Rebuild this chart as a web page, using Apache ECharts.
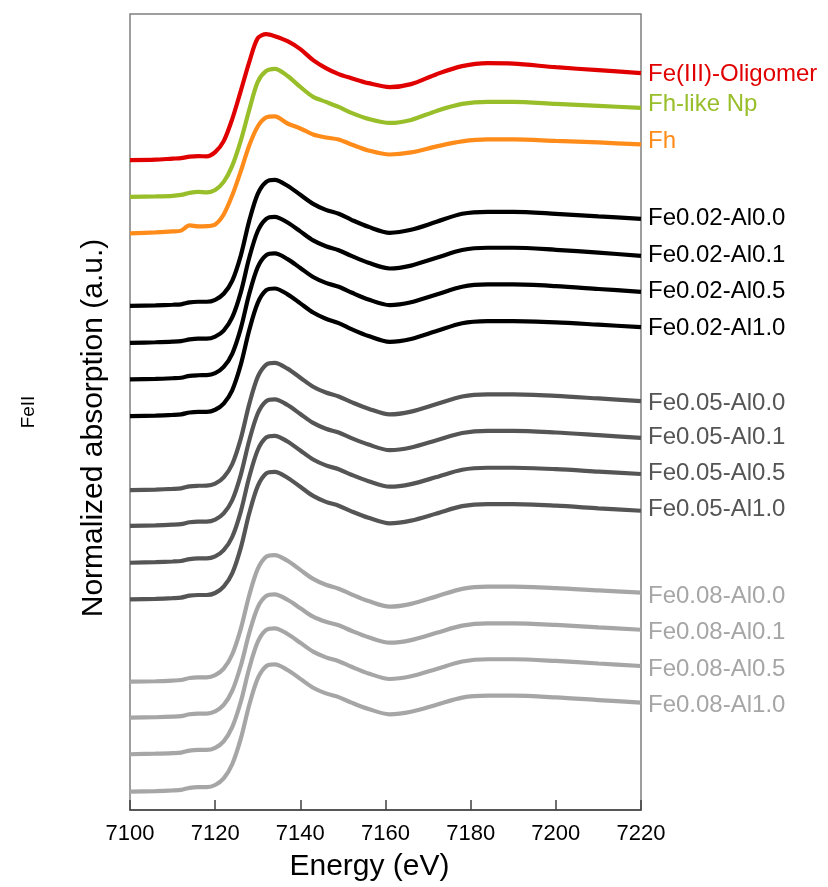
<!DOCTYPE html>
<html>
<head>
<meta charset="utf-8">
<script src="https://cdn.jsdelivr.net/npm/echarts@6/dist/echarts.min.js"></script>
<style>html,body{margin:0;padding:0;background:#fff}#chart{width:828px;height:887px}</style>
</head>
<body>
<div id="chart"></div>
<script>
// Energy grid (eV)
const energy = [7100, 7106, 7110, 7112, 7114, 7116, 7118, 7120, 7122, 7124, 7126, 7128, 7130, 7132, 7134, 7137, 7140, 7143, 7146, 7149, 7152, 7156, 7161, 7166, 7172, 7178, 7184, 7190, 7200, 7210, 7220];
const xTicks = [7100, 7120, 7140, 7160, 7180, 7200, 7220];

// Normalized spectra (pre-edge = 0)
const sOligomer = [0, 0.005, 0.016, 0.021, 0.037, 0.043, 0.040, 0.085, 0.202, 0.436, 0.734, 1.043, 1.298, 1.340, 1.319, 1.266, 1.181, 1.064, 0.979, 0.915, 0.872, 0.819, 0.777, 0.809, 0.915, 1.000, 1.032, 1.027, 0.989, 0.957, 0.926];
const sFhNp = [0, 0.005, 0.011, 0.021, 0.043, 0.053, 0.048, 0.074, 0.160, 0.330, 0.596, 0.926, 1.223, 1.340, 1.362, 1.287, 1.170, 1.064, 1.011, 0.957, 0.894, 0.830, 0.787, 0.819, 0.915, 0.989, 1.011, 1.011, 0.989, 0.968, 0.947];
const sFh = [0, 0.011, 0.021, 0.030, 0.085, 0.075, 0.077, 0.096, 0.202, 0.404, 0.660, 0.936, 1.138, 1.234, 1.245, 1.170, 1.117, 1.053, 1.021, 1.000, 0.947, 0.883, 0.840, 0.862, 0.926, 0.979, 1.000, 1.000, 0.984, 0.968, 0.947];
const s002_00 = [0, 0.005, 0.011, 0.016, 0.037, 0.043, 0.043, 0.064, 0.128, 0.266, 0.532, 0.904, 1.191, 1.319, 1.340, 1.277, 1.181, 1.085, 1.021, 0.979, 0.915, 0.840, 0.777, 0.809, 0.894, 0.979, 1.000, 1.000, 0.979, 0.952, 0.926];
const s002_01 = [0, 0.006, 0.012, 0.018, 0.036, 0.045, 0.044, 0.066, 0.130, 0.270, 0.535, 0.905, 1.190, 1.320, 1.341, 1.280, 1.186, 1.090, 1.028, 0.986, 0.925, 0.852, 0.791, 0.822, 0.905, 0.988, 1.012, 1.012, 0.990, 0.960, 0.926];
const s002_05 = [0, 0.005, 0.012, 0.017, 0.038, 0.044, 0.045, 0.066, 0.132, 0.272, 0.540, 0.910, 1.195, 1.322, 1.340, 1.280, 1.185, 1.090, 1.027, 0.985, 0.924, 0.850, 0.790, 0.820, 0.903, 0.986, 1.010, 1.010, 0.992, 0.962, 0.932];
const s002_10 = [0, 0.006, 0.013, 0.019, 0.039, 0.046, 0.046, 0.068, 0.134, 0.275, 0.545, 0.915, 1.205, 1.340, 1.358, 1.296, 1.200, 1.102, 1.036, 0.990, 0.926, 0.852, 0.790, 0.820, 0.905, 0.988, 1.010, 1.011, 0.998, 0.973, 0.947];
const s005_00 = [0, 0.006, 0.013, 0.019, 0.040, 0.046, 0.047, 0.068, 0.135, 0.275, 0.545, 0.915, 1.205, 1.336, 1.354, 1.292, 1.196, 1.100, 1.038, 0.996, 0.936, 0.866, 0.805, 0.835, 0.915, 0.996, 1.018, 1.018, 1.002, 0.975, 0.947];
const s005_01 = [0, 0.005, 0.012, 0.018, 0.038, 0.045, 0.045, 0.066, 0.132, 0.272, 0.540, 0.908, 1.195, 1.327, 1.345, 1.285, 1.190, 1.095, 1.033, 0.992, 0.933, 0.864, 0.805, 0.833, 0.910, 0.988, 1.011, 1.011, 0.993, 0.965, 0.936];
const s005_05 = [0, 0.006, 0.013, 0.019, 0.039, 0.046, 0.046, 0.067, 0.134, 0.274, 0.542, 0.912, 1.200, 1.333, 1.351, 1.290, 1.194, 1.098, 1.036, 0.995, 0.936, 0.868, 0.809, 0.837, 0.912, 0.990, 1.011, 1.011, 0.996, 0.970, 0.944];
const s005_10 = [0, 0.006, 0.013, 0.019, 0.040, 0.047, 0.047, 0.068, 0.136, 0.277, 0.546, 0.916, 1.205, 1.340, 1.357, 1.295, 1.198, 1.101, 1.038, 0.997, 0.937, 0.868, 0.809, 0.838, 0.914, 0.992, 1.014, 1.014, 0.997, 0.969, 0.943];
const s008_00 = [0, 0.005, 0.012, 0.018, 0.040, 0.046, 0.046, 0.070, 0.140, 0.290, 0.560, 0.920, 1.200, 1.330, 1.348, 1.287, 1.190, 1.094, 1.032, 0.990, 0.930, 0.858, 0.798, 0.828, 0.908, 0.988, 1.011, 1.011, 0.996, 0.971, 0.947];
const s008_01 = [0, 0.005, 0.011, 0.017, 0.037, 0.044, 0.044, 0.068, 0.136, 0.285, 0.550, 0.900, 1.175, 1.296, 1.313, 1.255, 1.165, 1.075, 1.020, 0.983, 0.925, 0.856, 0.798, 0.826, 0.903, 0.980, 1.004, 1.004, 0.987, 0.961, 0.936];
const s008_05 = [0, 0.006, 0.012, 0.018, 0.039, 0.046, 0.046, 0.069, 0.138, 0.288, 0.556, 0.915, 1.195, 1.323, 1.340, 1.280, 1.186, 1.092, 1.031, 0.990, 0.931, 0.860, 0.801, 0.830, 0.908, 0.987, 1.011, 1.011, 0.993, 0.966, 0.939];
const s008_10 = [0, 0.006, 0.013, 0.019, 0.041, 0.048, 0.048, 0.071, 0.141, 0.292, 0.562, 0.922, 1.205, 1.337, 1.355, 1.295, 1.200, 1.106, 1.046, 1.006, 0.948, 0.880, 0.823, 0.850, 0.925, 1.001, 1.021, 1.021, 1.003, 0.975, 0.947];

// Series names and vertical stacking offsets
const names = ['Fe(III)-Oligomer', 'Fh-like Np', 'Fh',
  'Fe0.02-Al0.0', 'Fe0.02-Al0.1', 'Fe0.02-Al0.5', 'Fe0.02-Al1.0',
  'Fe0.05-Al0.0', 'Fe0.05-Al0.1', 'Fe0.05-Al0.5', 'Fe0.05-Al1.0',
  'Fe0.08-Al0.0', 'Fe0.08-Al0.1', 'Fe0.08-Al0.5', 'Fe0.08-Al1.0'];
const spectra = [sOligomer, sFhNp, sFh, s002_00, s002_01, s002_05, s002_10,
  s005_00, s005_01, s005_05, s005_10, s008_00, s008_01, s008_05, s008_10];
const offsets = [6.915, 6.524, 6.135, 5.365, 4.971, 4.582, 4.191,
  3.404, 3.024, 2.631, 2.241, 1.365, 0.982, 0.593, 0.195];

// styling
const colors = ['#e00000', '#98be2a', '#ff8c1a',
  '#000000', '#000000', '#000000', '#000000',
  '#555555', '#555555', '#555555', '#555555',
  '#a6a6a6', '#a6a6a6', '#a6a6a6', '#a6a6a6'];
const labelDy = [1, -4, -3, 0, 0, 0, 1, 2, 0, -1, -1, 4, 3, 3, 3];

const FONT = 'Liberation Sans, Arial, sans-serif';
const chart = echarts.init(document.getElementById('chart'), null, {renderer: 'canvas'});

const series = names.map((n, k) => ({
  name: n,
  type: 'line',
  showSymbol: false,
  smooth: 0.3,
  data: energy.map((e, i) => [e, +(spectra[k][i] + offsets[k]).toFixed(3)]),
  lineStyle: {color: colors[k], width: 4.2},
  itemStyle: {color: colors[k]},
  endLabel: {
    show: true,
    formatter: '{a}',
    color: colors[k],
    fontFamily: FONT,
    fontSize: 24,
    distance: 7,
    offset: [0, labelDy[k]]
  },
  z: 3
}));

chart.setOption({
  animation: false,
  backgroundColor: '#ffffff',
  grid: {left: 130, right: 187, top: 14, bottom: 77, show: true, borderColor: '#7f7f7f', borderWidth: 1.5, backgroundColor: 'transparent'},
  xAxis: {
    type: 'value',
    min: xTicks[0], max: xTicks[xTicks.length - 1], interval: 20,
    name: 'Energy (eV)',
    nameLocation: 'middle',
    nameGap: 42,
    nameTextStyle: {fontFamily: FONT, fontSize: 30, color: '#000', padding: [0, 32, 0, 0]},
    axisLine: {show: true, lineStyle: {color: '#404040', width: 1.5}},
    axisTick: {show: true, inside: true, length: 10, lineStyle: {color: '#404040', width: 1.5}},
    axisLabel: {fontFamily: FONT, fontSize: 22, color: '#000', margin: 13, formatter: v => String(v)},
    splitLine: {show: false}
  },
  yAxis: {
    type: 'value', min: 0, max: 8.47,
    axisLine: {show: false}, axisTick: {show: false}, axisLabel: {show: false}, splitLine: {show: false}
  },
  graphic: [
    {type: 'text', x: 94, y: 428, rotation: Math.PI / 2,
     style: {text: 'Normalized absorption (a.u.)', fontFamily: FONT, fontSize: 30, fill: '#000', textAlign: 'center', textVerticalAlign: 'middle'}},
    {type: 'text', x: 29, y: 412, rotation: Math.PI / 2,
     style: {text: 'FeII', fontFamily: FONT, fontSize: 19, fill: '#000', textAlign: 'center', textVerticalAlign: 'middle'}}
  ],
  series: series
});
</script>
</body>
</html>
